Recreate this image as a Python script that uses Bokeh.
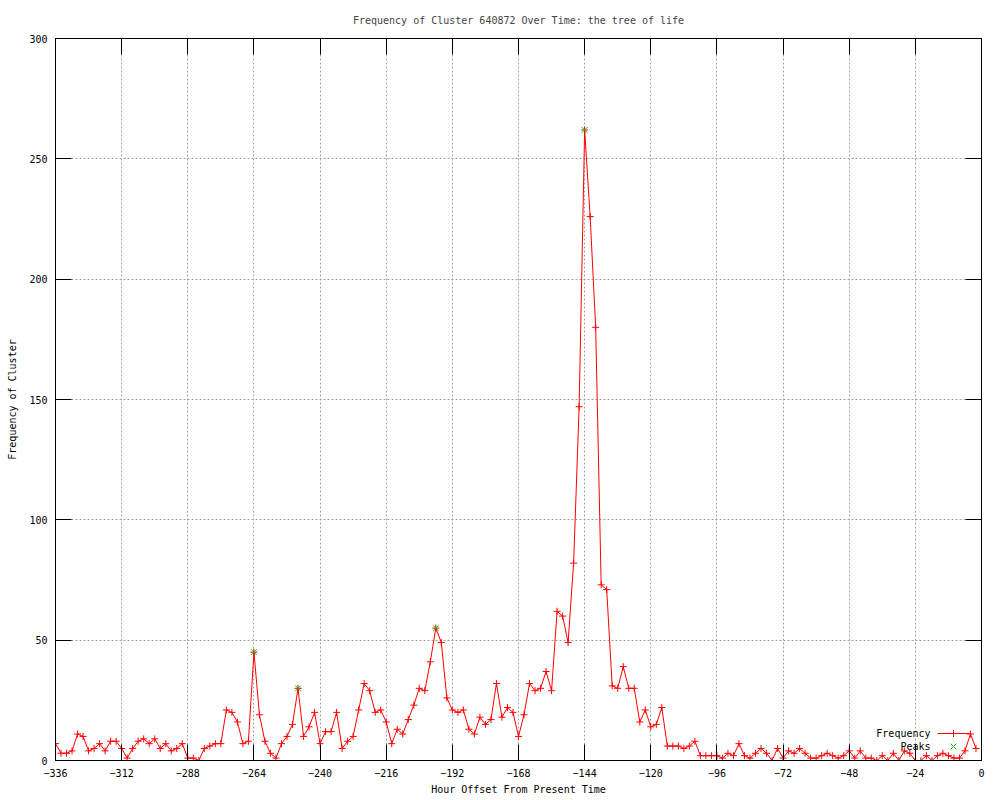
from bokeh.plotting import figure
from bokeh.models import Range1d, FixedTicker, LinearAxis, Label
from bokeh.embed import file_html
from bokeh.resources import INLINE

# ---- data ----
hours = list(range(-336, 0, 2))
frequency = [
    7, 3, 3, 4, 11, 10, 4, 5, 7, 4, 8, 8, 5, 1, 5, 8, 9, 7, 9, 5, 7, 4, 5, 7, 1, 1, 0,
    5, 6, 7, 7, 21, 20, 16, 7, 8, 45, 19, 8, 3, 1, 7, 10, 15, 30, 10, 14, 20, 7, 12, 12, 20, 5,
    8, 10, 21, 32, 29, 20, 21, 16, 7, 13, 11, 17, 23, 30, 29, 41, 55, 49, 26, 21, 20, 21, 13, 11, 18, 15, 17, 32, 18,
    22, 20, 10, 19, 32, 29, 30, 37, 29, 62, 60, 49, 82, 147, 262, 226, 180, 73, 71, 31, 30, 39, 30, 30, 16, 21, 14,
    15, 22, 6, 6, 6, 5, 6, 8, 2, 2, 2, 2, 1, 3, 2, 7, 2, 1, 3, 5, 3, 0, 5, 1, 4, 3, 5, 3,
    1, 1, 2, 3, 2, 1, 2, 4, 1, 4, 1, 1, 0, 2, 0, 3, 0, 4, 3, 0, 0, 2, 0, 2, 3, 2, 1, 1, 4, 11, 5,
]
peak_hours = [-264, -248, -198, -144]
peak_values = [45, 30, 55, 262]
x_ticks = [-336, -312, -288, -264, -240, -216, -192, -168, -144, -120, -96, -72, -48, -24, 0]
y_ticks = [0, 50, 100, 150, 200, 250, 300]

title_text = "Frequency of Cluster 640872 Over Time: the tree of life"
x_label = "Hour Offset From Present Time"
y_label = "Frequency of Cluster"

FONT = "DejaVu Sans Mono"
FS = "10px"
FRAME_W, FRAME_H = 926, 722

p = figure(width=994, height=798, output_backend="svg", toolbar_location=None,
           x_range=Range1d(-336, 0), y_range=Range1d(0, 300),
           min_border_left=55, min_border_right=13, min_border_top=38, min_border_bottom=38,
           title=title_text)

# pixel-like ranges for placing the key (legend) inside the frame
p.extra_x_ranges = {"key": Range1d(0, FRAME_W)}
p.extra_y_ranges = {"key": Range1d(0, FRAME_H)}

p.background_fill_color = "white"
p.border_fill_color = "white"
p.outline_line_color = "black"
p.outline_line_width = 1
p.outline_line_alpha = 1

p.title.text_font = FONT
p.title.text_font_size = FS
p.title.text_font_style = "normal"
p.title.align = "center"
p.title.standoff = 25

def style_axis(ax, ticks, show_labels):
    ax.ticker = FixedTicker(ticks=ticks)
    ax.major_tick_in = 16
    ax.major_tick_out = 0
    ax.minor_tick_in = 0
    ax.minor_tick_out = 0
    ax.major_tick_line_color = "black"
    ax.axis_line_color = "black"
    ax.major_label_text_font = FONT
    if show_labels:
        ax.major_label_text_color = "black"
        ax.major_label_text_font_size = FS
        ax.major_label_standoff = 8
    else:
        ax.major_label_text_color = None
        ax.major_label_text_font_size = "1px"
        ax.major_label_standoff = 0

xb = p.below[0]
yl = p.left[0]
style_axis(xb, x_ticks, True)
style_axis(yl, y_ticks, True)
xb.axis_label = x_label
yl.axis_label = y_label
for ax in (xb, yl):
    ax.axis_label_text_font = FONT
    ax.axis_label_text_font_size = FS
    ax.axis_label_text_font_style = "normal"
    ax.axis_label_text_color = "black"
xb.axis_label_standoff = 4
yl.axis_label_standoff = 8

top = LinearAxis()
style_axis(top, x_ticks, False)
p.add_layout(top, "above")
right = LinearAxis()
style_axis(right, y_ticks, False)
p.add_layout(right, "right")

p.xgrid.ticker = FixedTicker(ticks=x_ticks)
p.ygrid.ticker = FixedTicker(ticks=y_ticks)
for g in (p.xgrid, p.ygrid):
    g.grid_line_color = "#a0a0a0"
    g.grid_line_dash = "2 2"
    g.grid_line_width = 1

# ---- data marks ----
p.line(hours, frequency, line_color="#ff0000", line_width=1)
p.scatter(hours, frequency, marker="cross", size=7, line_color="#ff0000", line_width=1)
p.scatter(peak_hours, peak_values, marker="x", size=8, line_color="#00c000", line_width=1)

# ---- gnuplot-style key (bottom right, text left of sample) ----
key_labels = ["Frequency", "Peaks"]
key_rows = [27, 14]
for lab, ry in zip(key_labels, key_rows):
    p.add_layout(Label(x=875, y=ry, x_range_name="key", y_range_name="key", text=lab,
                       text_align="right", text_baseline="middle", text_font=FONT,
                       text_font_size=FS, text_color="black"))
p.line([882, 914], [key_rows[0]] * 2, x_range_name="key", y_range_name="key",
       line_color="#ff0000", line_width=1)
p.scatter([898], [key_rows[0]], x_range_name="key", y_range_name="key",
          marker="cross", size=7, line_color="#ff0000", line_width=1)
p.scatter([898], [key_rows[1]], x_range_name="key", y_range_name="key",
          marker="x", size=8, line_color="#00c000", line_width=1)

open("out.html", "w").write(file_html(p, INLINE))
